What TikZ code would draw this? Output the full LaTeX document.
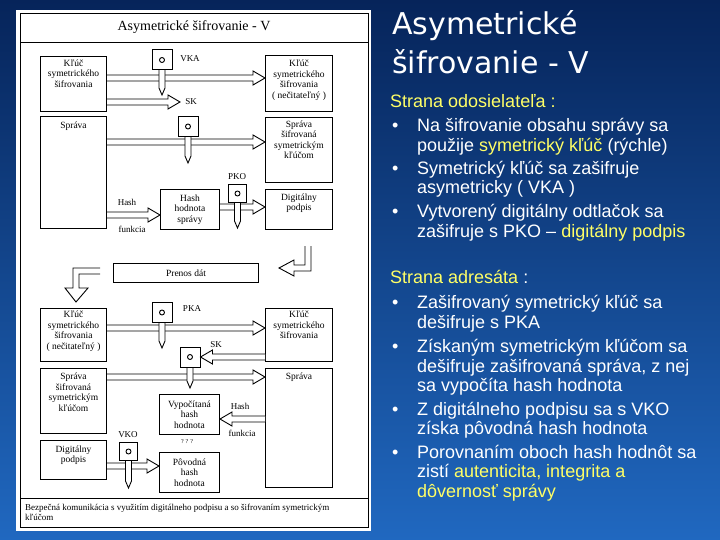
\documentclass[tikz,border=0pt]{standalone}
\usepackage{fontspec}
\setmainfont{Liberation Sans}
\newfontfamily\dfont{Liberation Serif}
\newfontfamily\tfont{DejaVu Sans}
\usetikzlibrary{calc}
\definecolor{hl}{RGB}{255,255,102}
\definecolor{bgtop}{RGB}{6,36,90}
\definecolor{bgbot}{RGB}{32,104,192}
\newcommand{\Y}[1]{\textcolor{hl}{#1}}
% hollow block arrow between two points at the same height
\newcommand{\harrow}[2]{%
  \draw[arr] let \p1=(#1), \p2=(#2), \n1={sign(\x2-\x1)} in
    (\x1,\y1+3pt) -- (\x2-\n1*12pt,\y1+3pt) -- (\x2-\n1*12pt,\y1+7pt) -- (\x2,\y1)
    -- (\x2-\n1*12pt,\y1-7pt) -- (\x2-\n1*12pt,\y1-3pt) -- (\x1,\y1-3pt);}
% lock with key stem: name, x, y, size, tip y
\newcommand{\lock}[5]{%
  \coordinate (#1t) at (#2,#5);
  \draw[arr] ($(#2,#3)+(-3,0)$) -- ($(#1t)+(-3,-7)$) -- (#1t) -- ($(#1t)+(3,-7)$) -- ($(#2,#3)+(3,0)$);
  \node[lockbox, minimum size=#4] (#1) at (#2,#3) {};
  \draw[line width=0.9pt] (#1.center) circle (2.5pt);}
\tikzset{
  box/.style={draw, fill=white, line width=1pt, inner sep=0pt, anchor=north west},
  btxt/.style={font=\dfont\fontsize{9.5}{10.5}\selectfont, align=center, inner sep=0pt, anchor=north},
  ctxt/.style={font=\dfont\fontsize{9.5}{10.5}\selectfont, align=center, inner sep=0pt},
  lbl/.style={font=\dfont\fontsize{9}{10}\selectfont, inner sep=0pt},
  lockbox/.style={draw, fill=white, line width=1pt, inner sep=0pt},
  arr/.style={draw, fill=white, line width=0.9pt, line join=miter},
  rt/.style={anchor=base west, inner sep=0pt, font=\fontsize{18}{21}\selectfont, text=white},
}
\begin{document}
\begin{tikzpicture}[x=1pt,y=-1pt]
\useasboundingbox (0,0) rectangle (720,540);
\shade[top color=bgtop, bottom color=bgbot] (0,0) rectangle (720,540);
% white panel and frame
\fill[white] (16,10) rectangle (371,531);
\draw[line width=0.8pt] (20,13) rectangle (368,527);
\draw[line width=0.8pt] (20,42) -- (368,42);
\draw[line width=0.8pt] (20,498) -- (368,498);
\node[inner sep=0pt, font=\dfont\fontsize{14}{16}\selectfont] (title) at (194,27) {Asymetrické šifrovanie - V};
\node[inner sep=0pt, anchor=north west, align=left, font=\dfont\fontsize{9}{10}\selectfont] (cap) at (25,504)
  {Bezpečná komunikácia s využitím digitálneho podpisu a so šifrovaním symetrickým\\kľúčom};

% ---------- sender side ----------
\node[box, minimum width=66pt, minimum height=55pt] (k1) at (40,56) {};
\node[btxt] (k1t) at ($(k1.north)+(0,3.5)$) {Kľúč\\symetrického\\šifrovania};
\node[box, minimum width=67pt, minimum height=56pt] (k2) at (265,55) {};
\node[btxt] (k2t) at ($(k2.north)+(0,5)$) {Kľúč\\symetrického\\šifrovania\\( nečitateľný )};
\node[box, minimum width=66pt, minimum height=112pt] (sp1) at (40,116) {};
\node[btxt] (sp1t) at ($(sp1.north)+(0,6)$) {Správa};
\node[box, minimum width=67pt, minimum height=65pt] (ss1) at (265,117) {};
\node[btxt] (ss1t) at ($(ss1.north)+(0,3.5)$) {Správa\\šifrovaná\\symetrickým\\kľúčom};
\node[box, minimum width=59pt, minimum height=40pt] (hh) at (160,189) {};
\node[ctxt] (hht) at (hh.center) {Hash\\hodnota\\správy};
\node[box, minimum width=67pt, minimum height=40pt] (dp1) at (265,189) {};
\node[btxt] (dp1t) at ($(dp1.north)+(0,4.5)$) {Digitálny\\podpis};

\harrow{k1.east |- 0,78}{k2.west |- 0,78}
\lock{L1}{162}{60}{20pt}{95}
\node[lbl] (vka) at (190,59) {VKA};
\coordinate (skend) at (180,102);
\harrow{k1.east |- 0,102}{skend}
\node[lbl] (sk1) at (191,102) {SK};
\harrow{sp1.east |- 0,142}{ss1.west |- 0,142}
\lock{L2}{188}{126.5}{20pt}{163}
\harrow{sp1.east |- 0,215}{hh.west |- 0,215}
\node[lbl] (hash1) at (127,202) {Hash};
\node[lbl] (fun1) at (132,229) {funkcia};
\harrow{hh.east |- 0,207}{dp1.west |- 0,207}
\lock{L3}{237.5}{193.5}{18pt}{228}
\node[lbl] (pko) at (237,177) {PKO};

% ---------- transfer ----------
\node[box, minimum width=145pt, minimum height=19pt] (pd) at (113,263) {};
\node[ctxt] (pdt) at (pd.center) {Prenos dát};
\draw[arr] (311,246) -- (311,271) -- (294,271) -- (294,276) -- (279,268) -- (294,260) -- (294,265) -- (305,265) -- (305,246);
\draw[arr] (100,268) -- (73,268) -- (73,288) -- (65,288) -- (76,302) -- (88,288) -- (79,288) -- (79,274) -- (100,274);

% ---------- receiver side ----------
\node[box, minimum width=66pt, minimum height=53pt] (k3) at (40,308) {};
\node[btxt] (k3t) at ($(k3.north)+(0,3)$) {Kľúč\\symetrického\\šifrovania\\( nečitateľný )};
\node[box, minimum width=67pt, minimum height=53pt] (k4) at (265,308) {};
\node[btxt] (k4t) at ($(k4.north)+(0,3)$) {Kľúč\\symetrického\\šifrovania};
\node[box, minimum width=66pt, minimum height=65pt] (ss2) at (40,368) {};
\node[btxt] (ss2t) at ($(ss2.north)+(0,5)$) {Správa\\šifrovaná\\symetrickým\\kľúčom};
\node[box, minimum width=67pt, minimum height=119pt] (sp2) at (265,368) {};
\node[btxt] (sp2t) at ($(sp2.north)+(0,5)$) {Správa};
\node[box, minimum width=60pt, minimum height=40pt] (vh) at (159,394) {};
\node[ctxt] (vht) at (vh.center) {Vypočítaná\\hash\\hodnota};
\node[box, minimum width=66pt, minimum height=39pt] (dp2) at (40,440) {};
\node[btxt] (dp2t) at ($(dp2.north)+(0,5.5)$) {Digitálny\\podpis};
\node[box, minimum width=60pt, minimum height=40pt] (ph) at (159,452) {};
\node[ctxt] (pht) at (ph.center) {Pôvodná\\hash\\hodnota};

\harrow{k3.east |- 0,328}{k4.west |- 0,328}
\lock{L4}{162}{312.5}{20pt}{348}
\node[lbl] (pka) at (192,309) {PKA};
\harrow{ss2.east |- 0,377}{sp2.west |- 0,377}
\lock{L5}{190}{357}{20pt}{388}
\harrow{k4.west |- 0,357}{L5.east}
\node[lbl] (sk2) at (216,345) {SK};
\harrow{sp2.west |- 0,419}{vh.east |- 0,419}
\node[lbl] (hash2) at (240,406) {Hash};
\node[lbl] (fun2) at (242,433) {funkcia};
\harrow{dp2.east |- 0,466}{ph.west |- 0,466}
\lock{L6}{128.5}{451.5}{18pt}{488}
\node[lbl] (vko) at (128,435) {VKO};
\node[lbl, font=\dfont\fontsize{6}{7}\selectfont] (qq) at (187,442) {? ? ?};

% ---------- right text ----------
\node[anchor=base west, inner sep=0pt, text=white, font=\tfont\fontsize{30}{39}\selectfont] (h1) at (392,35) {Asymetrické};
\node[anchor=base west, inner sep=0pt, text=white, font=\tfont\fontsize{30}{39}\selectfont] (h2) at (392,74) {šifrovanie - V};

\node[rt, text=hl] (a0) at (390,108) {Strana odosielateľa :};
\node[rt] (ab1) at (392,132) {•};
\node[rt] (a1) at (417,132) {Na šifrovanie obsahu správy sa};
\node[rt] (a2) at (417,152) {použije \Y{symetrický kľúč} (rýchle)};
\node[rt] (ab2) at (392,175) {•};
\node[rt] (a3) at (417,175) {Symetrický kľúč sa zašifruje};
\node[rt] (a4) at (417,194) {asymetricky ( VKA )};
\node[rt] (ab3) at (392,218) {•};
\node[rt] (a5) at (417,218) {Vytvorený digitálny odtlačok sa};
\node[rt] (a6) at (417,237) {zašifruje s PKO – \Y{digitálny podpis}};

\node[rt] (b0) at (390,283) {\Y{Strana adresáta} :};
\node[rt] (bb1) at (392,308) {•};
\node[rt] (b1) at (417,308) {Zašifrovaný symetrický kľúč sa};
\node[rt] (b2) at (417,328) {dešifruje s PKA};
\node[rt] (bb2) at (392,352) {•};
\node[rt] (b3) at (417,352) {Získaným symetrickým kľúčom sa};
\node[rt] (b4) at (417,372) {dešifruje zašifrovaná správa, z nej};
\node[rt] (b5) at (417,391) {sa vypočíta hash hodnota};
\node[rt] (bb3) at (392,415) {•};
\node[rt] (b6) at (417,415) {Z digitálneho podpisu sa s VKO};
\node[rt] (b7) at (417,434) {získa pôvodná hash hodnota};
\node[rt] (bb4) at (392,458) {•};
\node[rt] (b8) at (417,458) {Porovnaním oboch hash hodnôt sa};
\node[rt] (b9) at (417,477) {zistí \Y{autenticita, integrita a}};
\node[rt] (b10) at (417,497) {\Y{dôvernosť správy}};
\end{tikzpicture}
\end{document}
